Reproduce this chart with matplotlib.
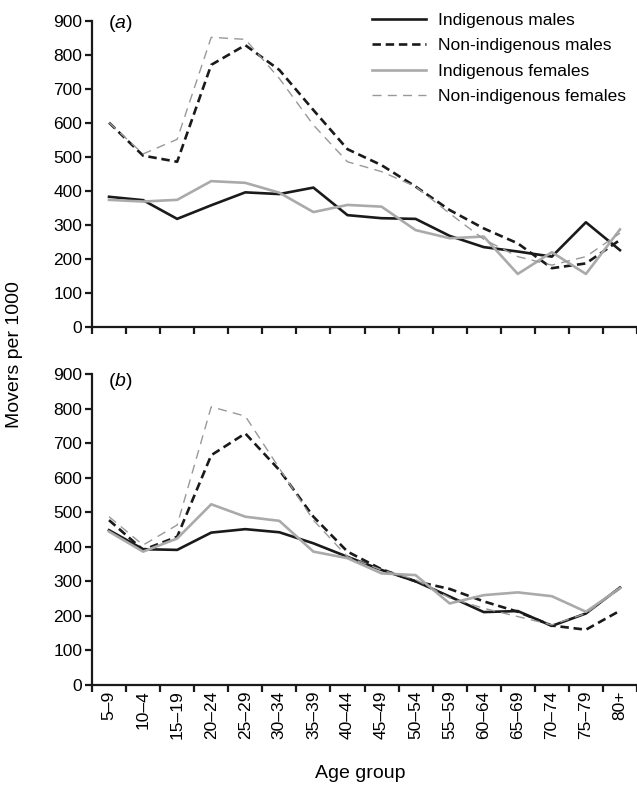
import matplotlib
matplotlib.use("Agg")
from matplotlib import pyplot as plt
import numpy as np

plt.rcParams['font.family'] = ['Liberation Sans', 'DejaVu Sans']
plt.rcParams['mathtext.fontset'] = 'custom'
plt.rcParams['mathtext.rm'] = 'Liberation Sans'
plt.rcParams['mathtext.it'] = 'Liberation Sans:italic'

# Age groups (original labels kept as printed)
age_groups = ["5–9", "10–4", "15–19", "20–24", "25–29", "30–34", "35–39", "40–44",
              "45–49", "50–54", "55–59", "60–64", "65–69", "70–74", "75–79", "80+"]

# Panel (a)
a_ind_m = [383, 373, 318, 358, 396, 391, 410, 329, 320, 318, 268, 235, 222, 207, 308, 226]
a_non_m = [601, 504, 486, 771, 829, 756, 638, 523, 476, 413, 344, 290, 246, 173, 187, 256]
a_ind_f = [374, 369, 374, 429, 424, 395, 338, 359, 354, 285, 261, 266, 156, 220, 156, 287]
a_non_f = [601, 509, 552, 852, 846, 731, 594, 486, 457, 413, 334, 258, 207, 182, 207, 276]

# Panel (b)
b_ind_m = [448, 393, 391, 441, 451, 442, 410, 371, 333, 300, 256, 211, 214, 171, 207, 282]
b_non_m = [477, 391, 429, 665, 728, 622, 487, 386, 335, 300, 278, 242, 212, 172, 160, 215]
b_ind_f = [444, 386, 424, 523, 487, 475, 386, 367, 323, 318, 236, 260, 268, 257, 212, 280]
b_non_f = [487, 405, 463, 805, 778, 627, 477, 371, 333, 305, 252, 222, 198, 174, 207, 278]

series_labels = ["Indigenous males", "Non-indigenous males",
                 "Indigenous females", "Non-indigenous females"]

styles = [
    dict(color="#1a1a1a", lw=1.9, linestyle="-"),
    dict(color="#1a1a1a", lw=1.9, linestyle=(0, (3.2, 1.8))),
    dict(color="#aaaaaa", lw=1.9, linestyle="-"),
    dict(color="#999999", lw=1.0, linestyle=(0, (6.5, 4.5))),
]

W, H = 637, 789
fig = plt.figure(figsize=(W / 100, H / 100), dpi=100)
left, right = 92 / W, 637 / W
ax_a = fig.add_axes([left, 1 - 327 / H, right - left, (327 - 21) / H])
ax_b = fig.add_axes([left, 1 - 685 / H, right - left, (685 - 374) / H])

x = np.arange(len(age_groups))
for ax, data in [(ax_a, [a_ind_m, a_non_m, a_ind_f, a_non_f]),
                 (ax_b, [b_ind_m, b_non_m, b_ind_f, b_non_f])]:
    for vals, st, lab in zip(data, styles, series_labels):
        ax.plot(x, vals, label=lab, **st)
    ax.set_xlim(-0.5, len(age_groups) - 0.5)
    ax.set_ylim(0, 900)
    ax.set_yticks(range(0, 901, 100))
    ax.set_xticks(np.arange(-0.5, len(age_groups), 1.0))
    ax.set_xticklabels([])
    ax.set_xticks(x, minor=True)
    ax.tick_params(axis='x', which='minor', length=0, labelsize=12.5, pad=4)
    ax.tick_params(axis='both', which='major', direction='out', length=5,
                   width=1.6, color="#1a1a1a", labelsize=12.5, pad=2)
    for s in ['top', 'right']:
        ax.spines[s].set_visible(False)
    for s in ['left', 'bottom']:
        ax.spines[s].set_linewidth(1.6)
        ax.spines[s].set_color("#1a1a1a")

ax_b.set_xticklabels(age_groups, minor=True, rotation=90)

ax_a.text(0.03, 1.025, "$(a)$", transform=ax_a.transAxes, fontsize=14,
          va='top', ha='left')
ax_b.text(0.03, 1.01, "$(b)$", transform=ax_b.transAxes, fontsize=14,
          va='top', ha='left')

ax_a.legend(loc='upper left', bbox_to_anchor=(372 / W, 1 - 13 / H),
            bbox_transform=fig.transFigure, frameon=False, fontsize=12.5,
            handlelength=3.1, handletextpad=0.7, labelspacing=0.58,
            borderpad=0, borderaxespad=0)

fig.text(15 / W, 1 - 355 / H, "Movers per 1000", rotation=90, fontsize=14,
         ha='center', va='center')
fig.text(360 / W, 1 - 773 / H, "Age group", fontsize=14, ha='center', va='center')

fig.savefig("out.png", dpi=100)
